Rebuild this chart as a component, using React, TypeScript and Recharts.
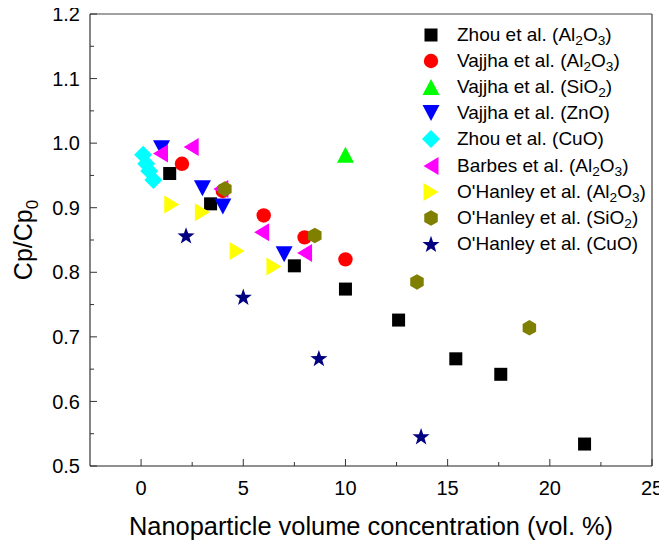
import React from 'react';
import { ScatterChart, Scatter, XAxis, YAxis, ReferenceLine, Legend } from 'recharts';

const FONT = "'Liberation Sans', Arial, Helvetica, sans-serif";

// ---- data ----
const zhouAl2O3X = [1.4, 3.4, 7.5, 10.0, 12.6, 15.4, 17.6, 21.7];
const zhouAl2O3Y = [0.953, 0.906, 0.81, 0.774, 0.726, 0.666, 0.642, 0.534];

const vajjhaAl2O3X = [2.0, 4.0, 6.0, 8.0, 10.0];
const vajjhaAl2O3Y = [0.968, 0.926, 0.888, 0.854, 0.82];

const vajjhaSiO2X = [10.0];
const vajjhaSiO2Y = [0.982];

const vajjhaZnOX = [1.0, 3.0, 4.0, 7.0];
const vajjhaZnOY = [0.992, 0.93, 0.902, 0.828];

const zhouCuOX = [0.1, 0.25, 0.4, 0.6];
const zhouCuOY = [0.982, 0.968, 0.957, 0.943];

const barbesAl2O3X = [0.95, 2.45, 3.9, 5.9, 8.0];
const barbesAl2O3Y = [0.984, 0.994, 0.929, 0.862, 0.83];

const ohanleyAl2O3X = [1.5, 3.0, 4.7, 6.5];
const ohanleyAl2O3Y = [0.905, 0.893, 0.833, 0.809];

const ohanleySiO2X = [4.1, 8.5, 13.5, 19.0];
const ohanleySiO2Y = [0.929, 0.857, 0.785, 0.714];

const ohanleyCuOX = [2.2, 5.0, 8.7, 13.7];
const ohanleyCuOY = [0.857, 0.762, 0.667, 0.546];

const xTicks = [0, 2.5, 5, 7.5, 10, 12.5, 15, 17.5, 20, 22.5, 25];
const yTicks = [0.5, 0.55, 0.6, 0.65, 0.7, 0.75, 0.8, 0.85, 0.9, 0.95, 1.0, 1.05, 1.1, 1.15, 1.2];

type Kind = 'square' | 'circle' | 'up' | 'down' | 'diamond' | 'left' | 'right' | 'hexagon' | 'star';

const series: { name: string; kind: Kind; color: string; xs: number[]; ys: number[] }[] = [
  { name: 'Zhou et al. (Al2O3)', kind: 'square', color: '#000000', xs: zhouAl2O3X, ys: zhouAl2O3Y },
  { name: 'Vajjha et al. (Al2O3)', kind: 'circle', color: '#ff0000', xs: vajjhaAl2O3X, ys: vajjhaAl2O3Y },
  { name: 'Vajjha et al. (SiO2)', kind: 'up', color: '#00ff00', xs: vajjhaSiO2X, ys: vajjhaSiO2Y },
  { name: 'Vajjha et al. (ZnO)', kind: 'down', color: '#0000ff', xs: vajjhaZnOX, ys: vajjhaZnOY },
  { name: 'Zhou et al. (CuO)', kind: 'diamond', color: '#00ffff', xs: zhouCuOX, ys: zhouCuOY },
  { name: 'Barbes et al. (Al2O3)', kind: 'left', color: '#ff00ff', xs: barbesAl2O3X, ys: barbesAl2O3Y },
  { name: "O'Hanley et al. (Al2O3)", kind: 'right', color: '#ffff00', xs: ohanleyAl2O3X, ys: ohanleyAl2O3Y },
  { name: "O'Hanley et al. (SiO2)", kind: 'hexagon', color: '#808000', xs: ohanleySiO2X, ys: ohanleySiO2Y },
  { name: "O'Hanley et al. (CuO)", kind: 'star', color: '#000080', xs: ohanleyCuOX, ys: ohanleyCuOY },
];

function Marker({ kind, cx, cy, color }: { kind: Kind; cx: number; cy: number; color: string }) {
  if (cx == null || cy == null || isNaN(cx) || isNaN(cy)) return null;
  const pts = (arr: number[][]) => arr.map((p) => `${cx + p[0]},${cy + p[1]}`).join(' ');
  switch (kind) {
    case 'square':
      return <rect x={cx - 6.5} y={cy - 6.5} width={13} height={13} fill={color} />;
    case 'circle':
      return <circle cx={cx} cy={cy} r={7.2} fill={color} />;
    case 'up':
      return <polygon points={pts([[0, -8], [8.5, 8], [-8.5, 8]])} fill={color} />;
    case 'down':
      return <polygon points={pts([[0, 8], [8.5, -8], [-8.5, -8]])} fill={color} />;
    case 'left':
      return <polygon points={pts([[-7.5, 0], [7.5, -9], [7.5, 9]])} fill={color} />;
    case 'right':
      return <polygon points={pts([[7.5, 0], [-7.5, -9], [-7.5, 9]])} fill={color} />;
    case 'diamond':
      return <polygon points={pts([[0, -9], [9, 0], [0, 9], [-9, 0]])} fill={color} />;
    case 'hexagon': {
      const a: number[][] = [];
      for (let i = 0; i < 6; i++) {
        const ang = (Math.PI / 180) * (90 + i * 60);
        a.push([7.8 * Math.cos(ang), 7.8 * Math.sin(ang)]);
      }
      return <polygon points={pts(a)} fill={color} />;
    }
    case 'star': {
      const a: number[][] = [];
      for (let i = 0; i < 10; i++) {
        const r = i % 2 === 0 ? 9 : 3.6;
        const ang = (Math.PI / 180) * (-90 + i * 36);
        a.push([r * Math.cos(ang), r * Math.sin(ang) + 0.8]);
      }
      return <polygon points={pts(a)} fill={color} />;
    }
  }
  return null;
}

function renderName(name: string) {
  const parts = name.split(/(\d)/);
  return parts.map((p, i) =>
    /\d/.test(p) ? (
      <sub key={i} style={{ fontSize: '0.72em', verticalAlign: '-0.3em', lineHeight: 0 }}>
        {p}
      </sub>
    ) : (
      <span key={i}>{p}</span>
    )
  );
}

const LegendContent = () => (
  <div style={{ fontFamily: FONT, fontSize: 19, color: '#000' }}>
    {series.map((s) => (
      <div key={s.name} style={{ display: 'flex', alignItems: 'center', height: 26.1, whiteSpace: 'nowrap' }}>
        <svg width={20} height={22} style={{ flex: 'none' }}>
          <Marker kind={s.kind} cx={10} cy={11} color={s.color} />
        </svg>
        <span style={{ marginLeft: 16, lineHeight: '26px' }}>{renderName(s.name)}</span>
      </div>
    ))}
  </div>
);

const YTick = (props: any) => {
  const { x, y, payload } = props;
  const v = payload.value as number;
  const major = Math.abs(v * 10 - Math.round(v * 10)) < 1e-6;
  return (
    <g>
      <line x1={x} x2={x + (major ? 7 : 4)} y1={y} y2={y} stroke="#333" strokeWidth={1} />
      {major && (
        <text x={x - 10} y={y} dy="0.36em" textAnchor="end" fontFamily={FONT} fontSize={20} fill="#000">
          {v.toFixed(1)}
        </text>
      )}
    </g>
  );
};

const XTick = (props: any) => {
  const { x, y, payload } = props;
  const v = payload.value as number;
  const major = Math.abs(v / 5 - Math.round(v / 5)) < 1e-6;
  return (
    <g>
      <line x1={x} x2={x} y1={y} y2={y - (major ? 7 : 4)} stroke="#333" strokeWidth={1} />
      {major && (
        <text x={x} y={y + 29} textAnchor="middle" fontFamily={FONT} fontSize={20} fill="#000">
          {String(v)}
        </text>
      )}
    </g>
  );
};

const YLabel = (props: any) => {
  const vb = props.viewBox || { x: 0, y: 0, width: 0, height: 0 };
  const bx = vb.x + 32;
  const cy = vb.y + vb.height / 2;
  return (
    <text
      x={bx}
      y={cy}
      textAnchor="middle"
      transform={`rotate(-90, ${bx}, ${cy})`}
      fontFamily={FONT}
      fontSize={25}
      fill="#000"
    >
      Cp/Cp
      <tspan fontSize={17} dy={6}>
        0
      </tspan>
    </text>
  );
};

const XLabel = (props: any) => {
  const vb = props.viewBox || { x: 0, y: 0, width: 0, height: 0 };
  return (
    <text x={vb.x + vb.width / 2} y={vb.y + 69} textAnchor="middle" fontFamily={FONT} fontSize={25.4} fill="#000">
      Nanoparticle volume concentration (vol. %)
    </text>
  );
};

export default function App() {
  return (
    <div style={{ margin: '-8px 0 0 -8px', width: 667, height: 540 }}>
      <ScatterChart width={667} height={540} margin={{ top: 14, right: 15, bottom: 0, left: 0 }}>
        <XAxis
          type="number"
          dataKey="x"
          domain={[-2.5, 25]}
          ticks={xTicks}
          interval={0}
          allowDataOverflow
          height={74}
          tickSize={0}
          tickMargin={0}
          tickLine={false}
          tick={<XTick />}
          axisLine={{ stroke: '#222', strokeWidth: 1.2 }}
          label={<XLabel />}
        />
        <YAxis
          type="number"
          dataKey="y"
          domain={[0.5, 1.2]}
          ticks={yTicks}
          interval={0}
          allowDataOverflow
          width={90}
          tickSize={0}
          tickMargin={0}
          tickLine={false}
          tick={<YTick />}
          axisLine={{ stroke: '#333', strokeWidth: 1.2 }}
          label={<YLabel />}
        />
        <ReferenceLine y={1.2} stroke="#444" strokeWidth={1.2} />
        <ReferenceLine x={25} stroke="#444" strokeWidth={1.2} />
        {series.map((s) => (
          <Scatter
            key={s.name}
            name={s.name}
            data={s.xs.map((x, i) => ({ x, y: s.ys[i] }))}
            fill={s.color}
            isAnimationActive={false}
            shape={(p: any) => <Marker kind={s.kind} cx={p.cx} cy={p.cy} color={s.color} />}
          />
        ))}
        <Legend
          layout="vertical"
          align="center"
          verticalAlign="middle"
          content={<LegendContent />}
          wrapperStyle={{ position: 'absolute', left: 421, top: 22, width: 240, height: 240 }}
        />
      </ScatterChart>
    </div>
  );
}
